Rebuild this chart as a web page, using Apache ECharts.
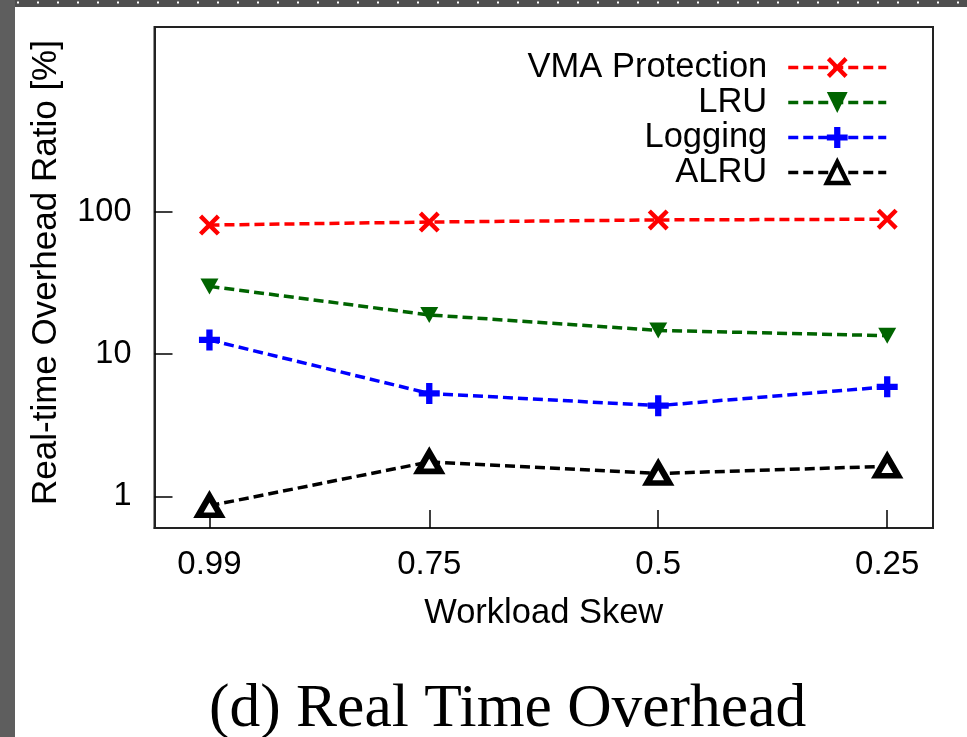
<!DOCTYPE html>
<html>
<head>
<meta charset="utf-8">
<script src="https://cdn.jsdelivr.net/npm/echarts@6/dist/echarts.min.js"></script>
<style>html,body{margin:0;padding:0;background:#fff;}#c{width:967px;height:737px;}</style>
</head>
<body>
<div id="c"></div>
<script>
const skew = [0.99, 0.75, 0.5, 0.25];
const xTicks = [0.99, 0.75, 0.5, 0.25];
const yTicks = [1, 10, 100];
const seriesNames = ['VMA Protection', 'LRU', 'Logging', 'ALRU'];
const vmaProtection = [81, 85, 88, 89];
const lru = [30, 18.9, 14.7, 13.5];
const logging = [12.6, 5.3, 4.35, 5.9];
const alru = [0.86, 1.75, 1.45, 1.63];

const FONT = 'Liberation Sans';
const pair = arr => skew.map((s, i) => [s, arr[i]]);
const xPath = 'path://M3,0 L10,7 L17,0 L20,3 L13,10 L20,17 L17,20 L10,13 L3,20 L0,17 L7,10 L0,3 Z';
const plusPath = 'path://M7,0 H13 V7 H20 V13 H13 V20 H7 V13 H0 V7 H7 Z';

function mk(name, data, color, symbol, size, extra) {
  return Object.assign({
    name: name,
    type: 'line',
    data: pair(data),
    symbol: symbol,
    symbolSize: size,
    showSymbol: true,
    lineStyle: { color: color, width: 3.5, type: [10, 5] },
    itemStyle: { color: color, borderWidth: 0 },
    z: 3
  }, extra || {});
}

const legendData = seriesNames.map(n => n === 'ALRU'
  ? { name: n, itemStyle: { color: '#ffffff', borderColor: '#000', borderWidth: 4.5 } }
  : { name: n });

const chart = echarts.init(document.getElementById('c'), null, { renderer: 'canvas' });
chart.setOption({
  animation: false,
  backgroundColor: '#ffffff',
  title: {
    text: '(d) Real Time Overhead',
    left: 204,
    top: 674,
    textStyle: { fontFamily: 'Liberation Serif', fontSize: 61.5, fontWeight: 'normal', color: '#000' }
  },
  graphic: [
    { type: 'rect', shape: { x: 0, y: 0, width: 967, height: 7 }, style: { fill: '#4f4f4f' }, z: 100 },
    { type: 'rect', shape: { x: 0, y: 0, width: 15, height: 737 }, style: { fill: '#5e5e5e' }, z: 100 },
    { type: 'line', shape: { x1: 17, y1: 2.5, x2: 967, y2: 2.5 }, style: { stroke: '#ffffff', lineWidth: 2, lineDash: [2, 18] }, z: 101 }
  ],
  legend: {
    data: legendData,
    orient: 'vertical',
    align: 'right',
    right: 74,
    top: 45,
    itemWidth: 98,
    itemHeight: 26,
    itemGap: 0,
    lineStyle: { width: 3.5 },
    textStyle: { fontFamily: FONT, fontSize: 34.5, color: '#000', lineHeight: 34, padding: [0, 16, 0, 0] }
  },
  grid: {
    left: 154.5, right: 34, top: 27, bottom: 209,
    show: true, borderColor: '#222', borderWidth: 2, backgroundColor: 'transparent'
  },
  xAxis: {
    type: 'value',
    inverse: true,
    min: 0.2,
    max: 1.05,
    name: 'Workload Skew',
    nameLocation: 'middle',
    nameGap: 68,
    nameTextStyle: { fontFamily: FONT, fontSize: 34.5, color: '#000' },
    axisLine: { show: true, lineStyle: { color: '#222', width: 2 } },
    axisTick: { show: true, inside: true, length: 18, lineStyle: { color: '#000', width: 1.5 }, customValues: xTicks },
    axisLabel: { fontFamily: FONT, fontSize: 33, color: '#000', margin: 20, customValues: xTicks, formatter: v => String(v) },
    splitLine: { show: false }
  },
  yAxis: {
    type: 'log',
    logBase: 10,
    min: 0.6,
    max: 2000,
    name: 'Real-time Overhead Ratio [%]',
    nameLocation: 'middle',
    nameGap: 91,
    nameTextStyle: { fontFamily: FONT, fontSize: 35, color: '#000', padding: [0, 0, 0, 10] },
    axisLine: { show: true, lineStyle: { color: '#222', width: 2 } },
    axisTick: { show: true, inside: true, length: 18, lineStyle: { color: '#000', width: 1.5 }, customValues: yTicks },
    axisLabel: { fontFamily: FONT, fontSize: 32.5, color: '#000', margin: 23, customValues: yTicks, formatter: v => String(v) },
    splitLine: { show: false }
  },
  series: [
    mk(seriesNames[0], vmaProtection, '#ff0000', xPath, 21),
    mk(seriesNames[1], lru, '#006400', 'triangle', [18, 16], { symbolRotate: 180 }),
    mk(seriesNames[2], logging, '#0000ff', plusPath, 21),
    mk(seriesNames[3], alru, '#000000', 'triangle', [22, 19], { itemStyle: { color: '#ffffff', borderColor: '#000', borderWidth: 6 } })
  ]
});
</script>
</body>
</html>
